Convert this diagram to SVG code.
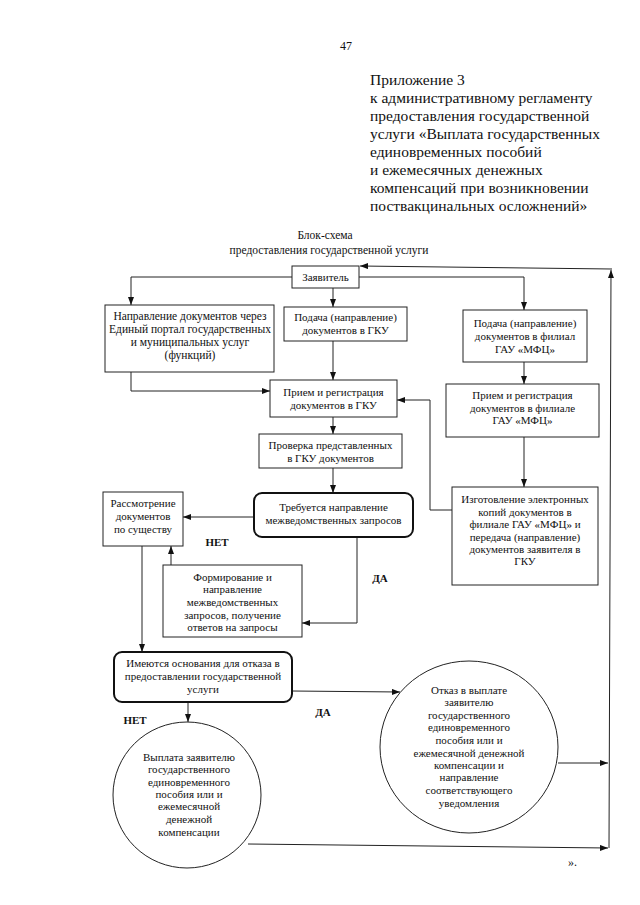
<svg xmlns="http://www.w3.org/2000/svg" width="640" height="905" viewBox="0 0 640 905">
<style>
text{font-family:"Liberation Serif","Times New Roman",serif;fill:#111}
.hdr{font-size:15.5px}
.ttl{font-size:11.5px;text-anchor:middle}
.t{font-size:11px;text-anchor:middle}
.t12{font-size:11.5px;text-anchor:middle}
.lbl{font-size:11px;font-weight:bold;text-anchor:middle}
.box{fill:#fff;stroke:#222;stroke-width:1}
.dec{fill:#fff;stroke:#111;stroke-width:2}
.c{fill:none;stroke:#222;stroke-width:1}
</style>
<defs>
<marker id="ah" viewBox="0 0 8 6" markerWidth="8" markerHeight="6" refX="8" refY="3" orient="auto" markerUnits="userSpaceOnUse">
<path d="M0,0 L8,3 L0,6 z" fill="#111"/>
</marker>
</defs>
<rect width="640" height="905" fill="#fff"/>
<g id="header">
<text x="340" y="50" style="font-size:12px">47</text>
<text class="hdr" x="370" y="85">Приложение 3</text>
<text class="hdr" x="370" y="103">к административному регламенту</text>
<text class="hdr" x="370" y="121">предоставления государственной</text>
<text class="hdr" x="370" y="139">услуги «Выплата государственных</text>
<text class="hdr" x="370" y="157">единовременных пособий</text>
<text class="hdr" x="370" y="175">и ежемесячных денежных</text>
<text class="hdr" x="370" y="193">компенсаций при возникновении</text>
<text class="hdr" x="370" y="211">поствакцинальных осложнений»</text>
</g>
<g id="title">
<text class="ttl" x="325" y="239">Блок-схема</text>
<text class="ttl" x="329" y="254">предоставления государственной услуги</text>
</g>
<g id="connectors">
<polyline class="c" points="292,277 131,277 131,305" marker-end="url(#ah)"/>
<line class="c" x1="333" y1="288" x2="333" y2="307" marker-end="url(#ah)"/>
<polyline class="c" points="359,277 524,277 524,310" marker-end="url(#ah)"/>
<line class="c" x1="333" y1="341" x2="333" y2="380" marker-end="url(#ah)"/>
<polyline class="c" points="131,372 131,391 270,391" marker-end="url(#ah)"/>
<line class="c" x1="524" y1="362" x2="524" y2="384" marker-end="url(#ah)"/>
<line class="c" x1="524" y1="437" x2="524" y2="487" marker-end="url(#ah)"/>
<polyline class="c" points="452,510 430,510 430,400 397,400" marker-end="url(#ah)"/>
<line class="c" x1="333" y1="417" x2="333" y2="434" marker-end="url(#ah)"/>
<line class="c" x1="333" y1="468" x2="333" y2="493" marker-end="url(#ah)"/>
<line class="c" x1="254" y1="517" x2="183" y2="517" marker-end="url(#ah)"/>
<polyline class="c" points="357,537 357,623 302,623" marker-end="url(#ah)"/>
<line class="c" x1="171" y1="565" x2="171" y2="546" marker-end="url(#ah)"/>
<line class="c" x1="142" y1="546" x2="142" y2="652" marker-end="url(#ah)"/>
<line class="c" x1="188" y1="702" x2="188" y2="722" marker-end="url(#ah)"/>
<line class="c" x1="292" y1="691" x2="400" y2="692" marker-end="url(#ah)"/>
<line class="c" x1="558" y1="763" x2="608" y2="763" marker-end="url(#ah)"/>
<line class="c" x1="248" y1="844" x2="608" y2="848" marker-end="url(#ah)"/>
<line class="c" x1="609" y1="848" x2="611" y2="270" marker-end="url(#ah)"/>
<line class="c" x1="612" y1="269" x2="360" y2="266" marker-end="url(#ah)"/>
</g>
<g id="n-applicant">
<rect class="box" x="292" y="266" width="67" height="22"/>
<text class="t" x="325.5" y="281">Заявитель</text>
</g>
<g id="n-portal">
<rect class="box" x="105" y="305" width="169" height="67"/>
<text class="t12" x="190" y="320">Направление документов через</text>
<text class="t12" x="190" y="333">Единый портал государственных</text>
<text class="t12" x="190" y="346">и муниципальных услуг</text>
<text class="t12" x="190" y="359">(функций)</text>
</g>
<g id="n-submit-gku">
<rect class="box" x="284" y="307" width="123" height="34"/>
<text class="t" x="345.5" y="321">Подача (направление)</text>
<text class="t" x="345.5" y="334">документов в ГКУ</text>
</g>
<g id="n-submit-mfc">
<rect class="box" x="463" y="310" width="124" height="52"/>
<text class="t" x="525" y="327">Подача (направление)</text>
<text class="t" x="525" y="340">документов в филиал</text>
<text class="t" x="525" y="353">ГАУ «МФЦ»</text>
</g>
<g id="n-reg-gku">
<rect class="box" x="270" y="380" width="127" height="37"/>
<text class="t" x="333.5" y="396">Прием и регистрация</text>
<text class="t" x="333.5" y="409">документов в ГКУ</text>
</g>
<g id="n-reg-mfc">
<rect class="box" x="446" y="384" width="153" height="53"/>
<text class="t" x="522.5" y="399">Прием и регистрация</text>
<text class="t" x="522.5" y="412">документов в филиале</text>
<text class="t" x="522.5" y="424">ГАУ «МФЦ»</text>
</g>
<g id="n-check">
<rect class="box" x="259" y="434" width="143" height="34"/>
<text class="t" x="330.5" y="449">Проверка представленных</text>
<text class="t" x="330.5" y="462">в ГКУ документов</text>
</g>
<g id="n-need-req">
<rect class="dec" x="254" y="493" width="159" height="44" rx="8"/>
<text class="t" x="333.5" y="511">Требуется направление</text>
<text class="t" x="333.5" y="524">межведомственных запросов</text>
</g>
<g id="n-review">
<rect class="box" x="103" y="492" width="80" height="54"/>
<text class="t" x="143" y="507">Рассмотрение</text>
<text class="t" x="143" y="520">документов</text>
<text class="t" x="143" y="533">по существу</text>
</g>
<g id="n-requests">
<rect class="box" x="163" y="565" width="139" height="72"/>
<text class="t" x="232.5" y="581">Формирование и</text>
<text class="t" x="232.5" y="593">направление</text>
<text class="t" x="232.5" y="606">межведомственных</text>
<text class="t" x="232.5" y="619">запросов, получение</text>
<text class="t" x="232.5" y="631">ответов на запросы</text>
</g>
<g id="n-copies">
<rect class="box" x="452" y="487" width="146" height="98"/>
<text class="t" x="525" y="503">Изготовление электронных</text>
<text class="t" x="525" y="516">копий документов в</text>
<text class="t" x="525" y="528">филиале ГАУ «МФЦ» и</text>
<text class="t" x="525" y="541">передача (направление)</text>
<text class="t" x="525" y="553">документов заявителя в</text>
<text class="t" x="525" y="565">ГКУ</text>
</g>
<g id="n-refusal-check">
<rect class="dec" x="114" y="652" width="178" height="50" rx="8"/>
<text class="t" x="203" y="667">Имеются основания для отказа в</text>
<text class="t" x="203" y="680">предоставлении государственной</text>
<text class="t" x="203" y="693">услуги</text>
</g>
<g id="n-pay">
<ellipse class="box" cx="187" cy="795" rx="74" ry="73"/>
<text class="t" x="189" y="761">Выплата заявителю</text>
<text class="t" x="189" y="773">государственного</text>
<text class="t" x="189" y="786">единовременного</text>
<text class="t" x="189" y="798">пособия или и</text>
<text class="t" x="189" y="810">ежемесячной</text>
<text class="t" x="189" y="823">денежной</text>
<text class="t" x="189" y="836">компенсации</text>
</g>
<g id="n-refuse">
<ellipse class="box" cx="469" cy="747" rx="89" ry="86"/>
<text class="t" x="469" y="694">Отказ в выплате</text>
<text class="t" x="469" y="706">заявителю</text>
<text class="t" x="469" y="719">государственного</text>
<text class="t" x="469" y="731">единовременного</text>
<text class="t" x="469" y="744">пособия или и</text>
<text class="t" x="469" y="757">ежемесячной денежной</text>
<text class="t" x="469" y="769">компенсации и</text>
<text class="t" x="469" y="781">направление</text>
<text class="t" x="469" y="794">соответствующего</text>
<text class="t" x="469" y="807">уведомления</text>
</g>
<g id="labels">
<text class="lbl" x="217" y="546">НЕТ</text>
<text class="lbl" x="380" y="582">ДА</text>
<text class="lbl" x="135" y="724">НЕТ</text>
<text class="lbl" x="323" y="716">ДА</text>
<text x="568" y="866" style="font-size:12px">».</text>
</g>
</svg>
